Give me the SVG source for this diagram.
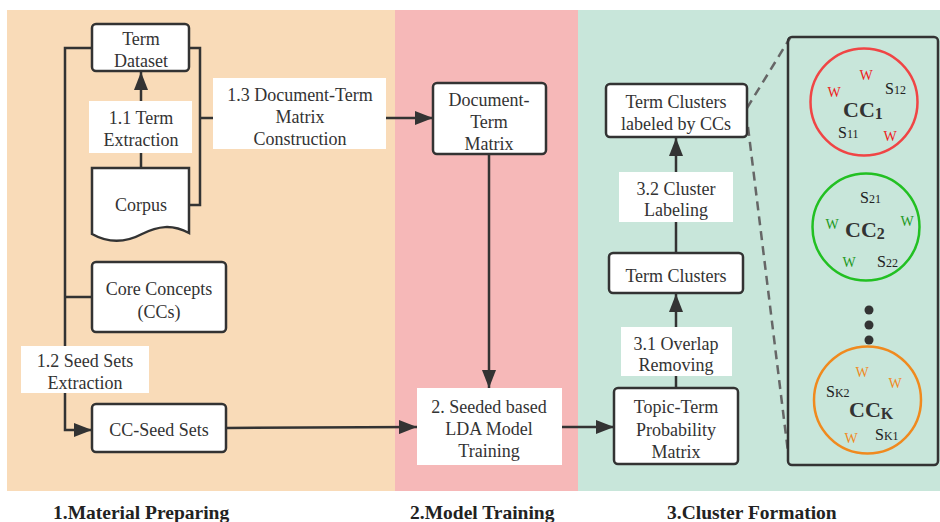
<svg xmlns="http://www.w3.org/2000/svg" width="940" height="522" viewBox="0 0 940 522" font-family="'Liberation Serif', 'Times New Roman', Tinos, 'DejaVu Serif', serif">
<defs>
<style>
text{font-family:'Liberation Serif','Times New Roman',Tinos,'DejaVu Serif',serif;fill:#333;}
.t{font-size:18px;text-anchor:middle;}
.node{fill:#fff;stroke:#333;stroke-width:2.5;}
.lab{fill:#fff;stroke:none;}
.ln{fill:none;stroke:#333;stroke-width:2.5;}
.dash{fill:none;stroke:#666;stroke-width:2.5;stroke-dasharray:9 6;}
.title{font-size:19.5px;font-weight:bold;fill:#222;}
.w{font-size:14px;text-anchor:middle;}
.s{font-size:16px;fill:#222;}
.cc{font-size:22px;font-weight:bold;fill:#333;}
</style>
<marker id="arr" markerWidth="18" markerHeight="14" refX="18" refY="7" orient="auto" markerUnits="userSpaceOnUse">
<path d="M0,0 L18,7 L0,14 Z" fill="#333"/>
</marker>
</defs>
<rect x="0" y="0" width="940" height="522" fill="#fff"/>
<g id="panels">
<rect x="7" y="10" width="388" height="481" fill="#F9DBB8"/>
<rect x="395" y="10" width="183" height="481" fill="#F6B8B8"/>
<rect x="578" y="10" width="362" height="481" fill="#C8E6DA"/>
</g>
<g id="connectors">
<polyline class="ln" points="92,48 65,48 65,430 92,430" marker-end="url(#arr)"/>
<line class="ln" x1="65" y1="297" x2="92" y2="297"/>
<line class="ln" x1="141" y1="168" x2="141" y2="72" marker-end="url(#arr)"/>
<polyline class="ln" points="189,48 200,48 200,205 189,205"/>
<line class="ln" x1="200" y1="118" x2="213" y2="118"/>
<line class="ln" x1="386" y1="118" x2="433" y2="118" marker-end="url(#arr)"/>
<line class="ln" x1="489" y1="154" x2="489" y2="388" marker-end="url(#arr)"/>
<line class="ln" x1="226" y1="428" x2="417" y2="427" marker-end="url(#arr)"/>
<line class="ln" x1="562" y1="427" x2="614" y2="427" marker-end="url(#arr)"/>
<line class="ln" x1="676" y1="388" x2="676" y2="294" marker-end="url(#arr)"/>
<line class="ln" x1="676" y1="253" x2="676" y2="138" marker-end="url(#arr)"/>
<line class="dash" x1="747" y1="108" x2="790" y2="38"/>
<line class="dash" x1="748" y1="127" x2="788" y2="452"/>
</g>
<g id="term-dataset">
<rect class="node" x="92" y="24" width="97" height="47" rx="4"/>
<text class="t" x="141" y="45">Term</text>
<text class="t" x="141" y="67">Dataset</text>
</g>
<g id="label-1-1">
<rect class="lab" x="89" y="101" width="103" height="52"/>
<text class="t" x="141" y="124">1.1 Term</text>
<text class="t" x="141" y="146">Extraction</text>
</g>
<g id="corpus">
<path class="node" d="M92,168 H189 V233 C172,224 158,226 142,234 C125,243 108,243 92,234 Z"/>
<text class="t" x="141" y="211">Corpus</text>
</g>
<g id="label-1-3">
<rect class="lab" x="213" y="78" width="173" height="71"/>
<text class="t" x="300" y="101">1.3 Document-Term</text>
<text class="t" x="300" y="123">Matrix</text>
<text class="t" x="300" y="145">Construction</text>
</g>
<g id="core-concepts">
<rect class="node" x="92" y="262" width="134" height="70" rx="4"/>
<text class="t" x="159" y="295">Core Concepts</text>
<text class="t" x="159" y="318">(CCs)</text>
</g>
<g id="label-1-2">
<rect class="lab" x="21" y="346" width="128" height="47"/>
<text class="t" x="85" y="367">1.2 Seed Sets</text>
<text class="t" x="85" y="389">Extraction</text>
</g>
<g id="cc-seed-sets">
<rect class="node" x="92" y="404" width="134" height="48" rx="4"/>
<text class="t" x="159" y="436">CC-Seed Sets</text>
</g>
<g id="doc-term-matrix">
<rect class="node" x="433" y="83" width="113" height="71" rx="4"/>
<text class="t" x="489" y="106">Document-</text>
<text class="t" x="489" y="128">Term</text>
<text class="t" x="489" y="150">Matrix</text>
</g>
<g id="seeded-lda">
<rect class="lab" x="417" y="388" width="145" height="77"/>
<text class="t" x="489" y="413">2. Seeded based</text>
<text class="t" x="489" y="435">LDA Model</text>
<text class="t" x="489" y="457">Training</text>
</g>
<g id="topic-term">
<rect class="node" x="614" y="388" width="124" height="76" rx="4"/>
<text class="t" x="676" y="413">Topic-Term</text>
<text class="t" x="676" y="436">Probability</text>
<text class="t" x="676" y="458">Matrix</text>
</g>
<g id="label-3-1">
<rect class="lab" x="621" y="327" width="111" height="49"/>
<text class="t" x="676" y="350">3.1 Overlap</text>
<text class="t" x="676" y="371">Removing</text>
</g>
<g id="term-clusters">
<rect class="node" x="609" y="253" width="134" height="40" rx="4"/>
<text class="t" x="676" y="282">Term Clusters</text>
</g>
<g id="label-3-2">
<rect class="lab" x="619" y="172" width="114" height="50"/>
<text class="t" x="676" y="195">3.2 Cluster</text>
<text class="t" x="676" y="216">Labeling</text>
</g>
<g id="term-clusters-labeled">
<rect class="node" x="606" y="84" width="141" height="53" rx="4"/>
<text class="t" x="676" y="108">Term Clusters</text>
<text class="t" x="676" y="130">labeled by CCs</text>
</g>
<g id="cc-panel">
<rect fill="none" stroke="#333" stroke-width="2.5" x="788" y="37" width="150" height="428" rx="4"/>
</g>
<g id="cc1">
<circle cx="864" cy="102" r="53.5" fill="none" stroke="#F04545" stroke-width="2.5"/>
<text class="w" x="866" y="80" style="fill:#EE2020">W</text>
<text class="w" x="834" y="97" style="fill:#EE2020">W</text>
<text class="w" x="890" y="141" style="fill:#EE2020">W</text>
<text class="s" x="885" y="94">S<tspan font-size="12">12</tspan></text>
<text class="s" x="838" y="138">S<tspan font-size="12">11</tspan></text>
<text class="cc" x="843" y="117">CC<tspan font-size="16" dy="2">1</tspan></text>
</g>
<g id="cc2">
<circle cx="866" cy="227" r="53.5" fill="none" stroke="#22C022" stroke-width="2.5"/>
<text class="s" x="860" y="203">S<tspan font-size="12">21</tspan></text>
<text class="w" x="832" y="229" style="fill:#1E9A1E">W</text>
<text class="w" x="907" y="226" style="fill:#1E9A1E">W</text>
<text class="w" x="849" y="267" style="fill:#1E9A1E">W</text>
<text class="s" x="877" y="267">S<tspan font-size="12">22</tspan></text>
<text class="cc" x="845" y="237">CC<tspan font-size="16" dy="2">2</tspan></text>
</g>
<g id="dots">
<circle cx="869" cy="310" r="4.5" fill="#333"/>
<circle cx="869" cy="325" r="4.5" fill="#333"/>
<circle cx="869" cy="340" r="4.5" fill="#333"/>
</g>
<g id="cck">
<circle cx="867.5" cy="400" r="53.5" fill="none" stroke="#F08A1E" stroke-width="2.5"/>
<text class="w" x="862" y="377" style="fill:#F08A1E">W</text>
<text class="w" x="895" y="388" style="fill:#F08A1E">W</text>
<text class="w" x="851" y="443" style="fill:#F08A1E">W</text>
<text class="s" x="826" y="397">S<tspan font-size="12">K2</tspan></text>
<text class="s" x="875" y="440">S<tspan font-size="12">K1</tspan></text>
<text class="cc" x="849" y="417">CC<tspan font-size="16" dy="2">K</tspan></text>
</g>
<g id="titles">
<text class="title" x="53" y="519">1.Material Preparing</text>
<text class="title" x="410" y="519">2.Model Training</text>
<text class="title" x="667" y="519">3.Cluster Formation</text>
</g>
</svg>
